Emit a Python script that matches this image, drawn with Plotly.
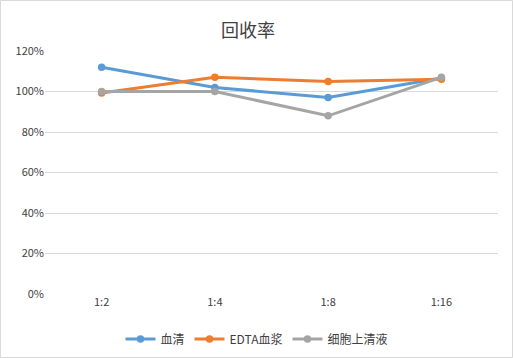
import plotly.graph_objects as go

categories = ["1:2", "1:4", "1:8", "1:16"]
serum = [1.12, 1.02, 0.97, 1.067]
edta_plasma = [0.993, 1.07, 1.05, 1.06]
cell_supernatant = [1.0, 1.0, 0.88, 1.07]
series_names = ["血清", "EDTA血浆", "细胞上清液"]
colors = ["#5B9BD5", "#ED7D31", "#A5A5A5"]

W, H = 513, 358
ml, mr, mt, mb = 45, 15, 51, 64

fig = go.Figure()
for name, vals, c in zip(series_names, [serum, edta_plasma, cell_supernatant], colors):
    fig.add_trace(go.Scatter(
        x=categories, y=vals, name=name, mode="lines+markers",
        line=dict(color=c, width=3), marker=dict(color=c, size=7.5),
    ))

pw = W - ml - mr
ph = H - mt - mb
fig.add_shape(type="rect", xref="paper", yref="paper",
              x0=-(ml - 0.5) / pw, x1=1 + (mr - 0.5) / pw,
              y0=-(mb - 0.5) / ph, y1=1 + (mt - 0.5) / ph,
              line=dict(color="#D9D9D9", width=1), layer="below")

fig.update_layout(
    width=W, height=H,
    margin=dict(l=ml, r=mr, t=mt, b=mb, autoexpand=False),
    paper_bgcolor="white", plot_bgcolor="white",
    font=dict(family="Noto Sans CJK SC, Liberation Sans, sans-serif", color="#595959", size=11),
    title=dict(text="回收率", x=248 / W, xanchor="center", xref="container",
               y=1 - 31 / H, yanchor="middle", yref="container",
               font=dict(size=18, color="#404040")),
    xaxis=dict(type="category", range=[-0.5, 3.5], showgrid=False, showline=False,
               ticks="", zeroline=False, automargin=False,
               tickfont=dict(size=11, color="#404040")),
    yaxis=dict(range=[0, 1.2], dtick=0.2, tickformat=".0%", showgrid=True,
               gridcolor="#D9D9D9", gridwidth=1, zeroline=False, showline=False,
               ticks="", automargin=False, tickfont=dict(size=11, color="#404040")),
    legend=dict(orientation="h", x=0.5, xanchor="center", xref="container",
                y=1 - 339 / H, yanchor="middle", yref="container",
                font=dict(size=12, color="#404040"), itemwidth=30, tracegroupgap=0),
    showlegend=True,
)

fig.write_html("out.html", config={"displayModeBar": False},
               post_script="document.body.style.margin='0';document.body.style.overflow='hidden';")
